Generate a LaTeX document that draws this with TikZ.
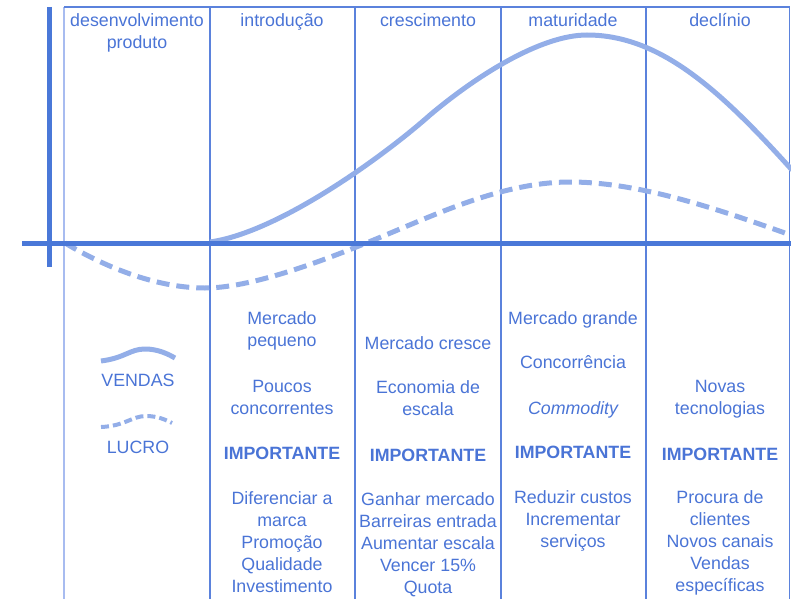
\documentclass[tikz,border=0pt]{standalone}
\usepackage{fontspec}
\setmainfont{Liberation Sans}
\definecolor{txt}{HTML}{4A74D6}
\definecolor{axiscol}{HTML}{4A78D8}
\definecolor{gridcol}{HTML}{5B82DC}
\definecolor{gridlight}{HTML}{A8BCF0}
\definecolor{curvecol}{HTML}{93AEE8}
\begin{document}
\begin{tikzpicture}[x=1pt,y=-1pt,
  lbl/.style={text=txt,font=\fontsize{17.8}{22}\selectfont,align=center,anchor=base,inner sep=0pt},
  imp/.style={lbl,font=\fontsize{17.8}{22}\selectfont\bfseries},
  gridline/.style={draw=gridcol,line width=1.3pt},
  axisline/.style={draw=axiscol,line width=5pt},
  sales/.style={draw=curvecol,line width=5pt},
  profit/.style={draw=curvecol,line width=5pt,dash pattern=on 13pt off 7pt}]
\useasboundingbox (0,0) rectangle (791,599);
% grid
\draw[gridline,draw=gridlight] (64,7) -- (64,599);
\foreach \xx in {210,355,501,646,789.5}{\draw[gridline] (\xx,7) -- (\xx,599);}
\draw[gridline] (64,7) -- (789.5,7);
% curves
\draw[sales] (210,242) .. controls (280,232) and (385,155) .. (430,115)
  .. controls (475,77) and (540,35) .. (587,35)
  .. controls (660,35) and (720,90) .. (792,170);
\draw[profit] (65,243) .. controls (110,270) and (160,288) .. (205,288)
  .. controls (260,288) and (350,250) .. (400,229)
  .. controls (450,208) and (510,182) .. (570,182)
  .. controls (640,182) and (720,210) .. (785,233);
% axes
\draw[axisline] (49,7) -- (49,267);
\draw[axisline] (22,243) -- (791,243);
% headers (anchor = baseline of last line)
\node[lbl] (h1) at (137,49) {desenvolvimento\\produto};
\node[lbl] (h2) at (282,27) {introdução};
\node[lbl] (h3) at (428,27) {crescimento};
\node[lbl] (h4) at (573,27) {maturidade};
\node[lbl] (h5) at (720,27) {declínio};
% legend
\draw[sales] (101,361) .. controls (125,358) and (130,349) .. (145,349) .. controls (158,349) and (168,354) .. (175,358);
\node[lbl] (lv) at (138,386) {VENDAS};
\draw[draw=curvecol,line width=4pt,dash pattern=on 8pt off 4pt] (101,427) .. controls (125,426) and (132,416) .. (146,416) .. controls (158,416) and (166,420) .. (172,423);
\node[lbl] (ll) at (138,453) {LUCRO};
% column 2
\node[lbl] (c2a) at (282,346) {Mercado\\pequeno};
\node[lbl] (c2b) at (282,414) {Poucos\\concorrentes};
\node[imp] (c2i) at (282,459) {IMPORTANTE};
\node[lbl] (c2c) at (282,592) {Diferenciar a\\marca\\Promoção\\Qualidade\\Investimento};
% column 3
\node[lbl] (c3a) at (428,349) {Mercado cresce};
\node[lbl] (c3b) at (428,415) {Economia de\\escala};
\node[imp] (c3i) at (428,461) {IMPORTANTE};
\node[lbl] (c3c) at (428,593) {Ganhar mercado\\Barreiras entrada\\Aumentar escala\\Vencer 15\%\\Quota};
% column 4
\node[lbl] (c4a) at (573,324) {Mercado grande};
\node[lbl] (c4b) at (573,368) {Concorrência};
\node[lbl,font=\fontsize{17.8}{22}\selectfont\itshape] (c4c) at (573,414) {Commodity};
\node[imp] (c4i) at (573,458) {IMPORTANTE};
\node[lbl] (c4d) at (573,547) {Reduzir custos\\Incrementar\\serviços};
% column 5
\node[lbl] (c5a) at (720,414) {Novas\\tecnologias};
\node[imp] (c5i) at (720,460) {IMPORTANTE};
\node[lbl] (c5b) at (720,591) {Procura de\\clientes\\Novos canais\\Vendas\\específicas};
\end{tikzpicture}
\end{document}
